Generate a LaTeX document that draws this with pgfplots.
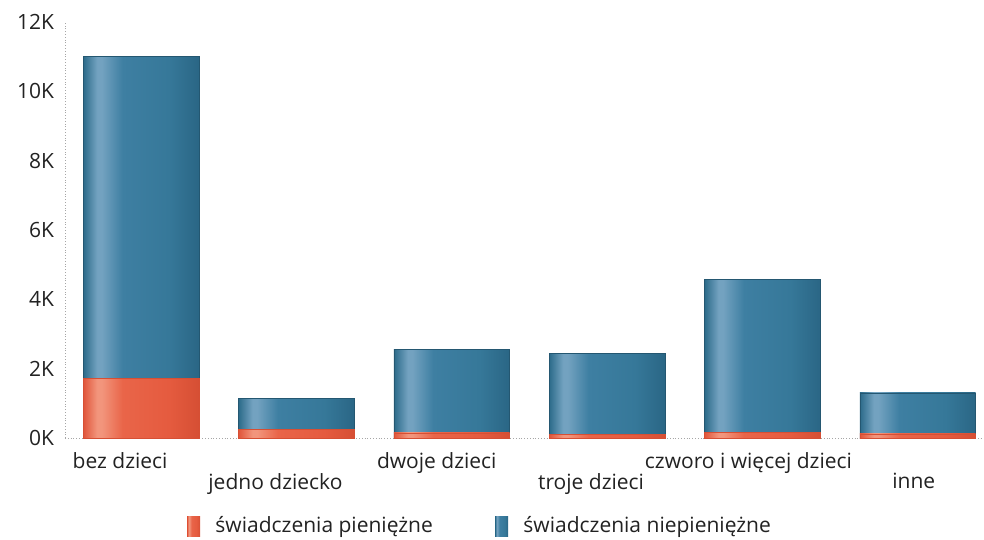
\documentclass[border=0pt]{standalone}
\usepackage{fontspec}
\setmainfont{Open Sans}
\usepackage{pgfplots}
\pgfplotsset{compat=1.18}
\definecolor{txt}{HTML}{222222}
\definecolor{bA}{HTML}{2C6B8A}
\definecolor{bB}{HTML}{73A2C0}
\definecolor{bC}{HTML}{3E7FA2}
\definecolor{bD}{HTML}{367899}
\definecolor{bE}{HTML}{2A6685}
\definecolor{oA}{HTML}{E0553A}
\definecolor{oB}{HTML}{F2957C}
\definecolor{oC}{HTML}{E96549}
\definecolor{oD}{HTML}{E55B3F}
\definecolor{oE}{HTML}{D64F34}
\pgfdeclarehorizontalshading{blueshade}{100bp}{color(0bp)=(bA); color(25bp)=(bA); color(31bp)=(bB); color(33bp)=(bB); color(42bp)=(bC); color(62bp)=(bD); color(75bp)=(bE); color(100bp)=(bE)}
\pgfdeclarehorizontalshading{orangeshade}{100bp}{color(0bp)=(oA); color(25bp)=(oA); color(31bp)=(oB); color(33bp)=(oB); color(42bp)=(oC); color(62bp)=(oD); color(75bp)=(oE); color(100bp)=(oE)}
\pgfplotsset{
  bl/.style={ybar, bar width=0.745, bar shift=0pt, shade, shading=blueshade, draw=bE!85!black, line width=0.3pt, forget plot},
  ob/.style={ybar, bar width=0.745, bar shift=0pt, shade, shading=orangeshade, draw=oE, line width=0.3pt, forget plot},
  leg/.style={legend image code/.code={\path[##1, draw=none] (0pt,-5pt) rectangle (6.5pt,5pt); \path (0pt,0pt) (12pt,0pt);}},
}
\begin{document}
\begin{tikzpicture}
\begin{axis}[
  scale only axis,
  width=459pt, height=208pt,
  xmin=-0.49, xmax=5.42,
  ymin=0, ymax=12000,
  scaled y ticks=false,
  axis x line*=bottom, axis y line*=left,
  axis line style={densely dotted, black!35, -},
  major tick length=0pt,
  ytick={0,2000,4000,6000,8000,10000,12000},
  yticklabels={0K,2K,4K,6K,8K,10K,12K},
  yticklabel style={font=\fontsize{10.5}{12}\selectfont, text=txt, xshift=-2pt},
  xtick={0,2,4},
  xticklabels={\hspace*{-21pt}bez dzieci, \hspace*{-15pt}dwoje dzieci, \hspace*{-14pt}czworo i więcej dzieci},
  xticklabel style={font=\fontsize{10.5}{12}\selectfont, text=txt, yshift=-3.5pt},
  extra x ticks={1,3,5},
  extra x tick labels={\hspace*{-21pt}jedno dziecko, \hspace*{-16pt}troje dzieci, \hspace*{-4pt}inne},
  extra x tick style={xticklabel style={yshift=-10.5pt}},
  legend columns=2,
  legend style={at={(0.453,-0.212)}, anchor=center, draw=none, fill=none,
    font=\fontsize{10.5}{12}\selectfont, text=txt,
    /tikz/every even column/.append style={column sep=29pt}},
]
% totals (pieniężne + niepieniężne)
\addplot[bl] coordinates {(0,11000)};
\addplot[bl] coordinates {(1,1140)};
\addplot[bl] coordinates {(2,2550)};
\addplot[bl] coordinates {(3,2450)};
\addplot[bl] coordinates {(4,4570)};
\addplot[bl] coordinates {(5,1300)};
% świadczenia pieniężne
\addplot[ob] coordinates {(0,1730)};
\addplot[ob] coordinates {(1,240)};
\addplot[ob] coordinates {(2,150)};
\addplot[ob] coordinates {(3,110)};
\addplot[ob] coordinates {(4,160)};
\addplot[ob] coordinates {(5,120)};
\addlegendimage{ob, leg}
\addlegendentry{świadczenia pieniężne}
\addlegendimage{bl, leg}
\addlegendentry{świadczenia niepieniężne}
\end{axis}
\pgfresetboundingbox
\path[use as bounding box] (-32.5pt,-51pt) rectangle (459.5pt,219pt);
\end{tikzpicture}
\end{document}
